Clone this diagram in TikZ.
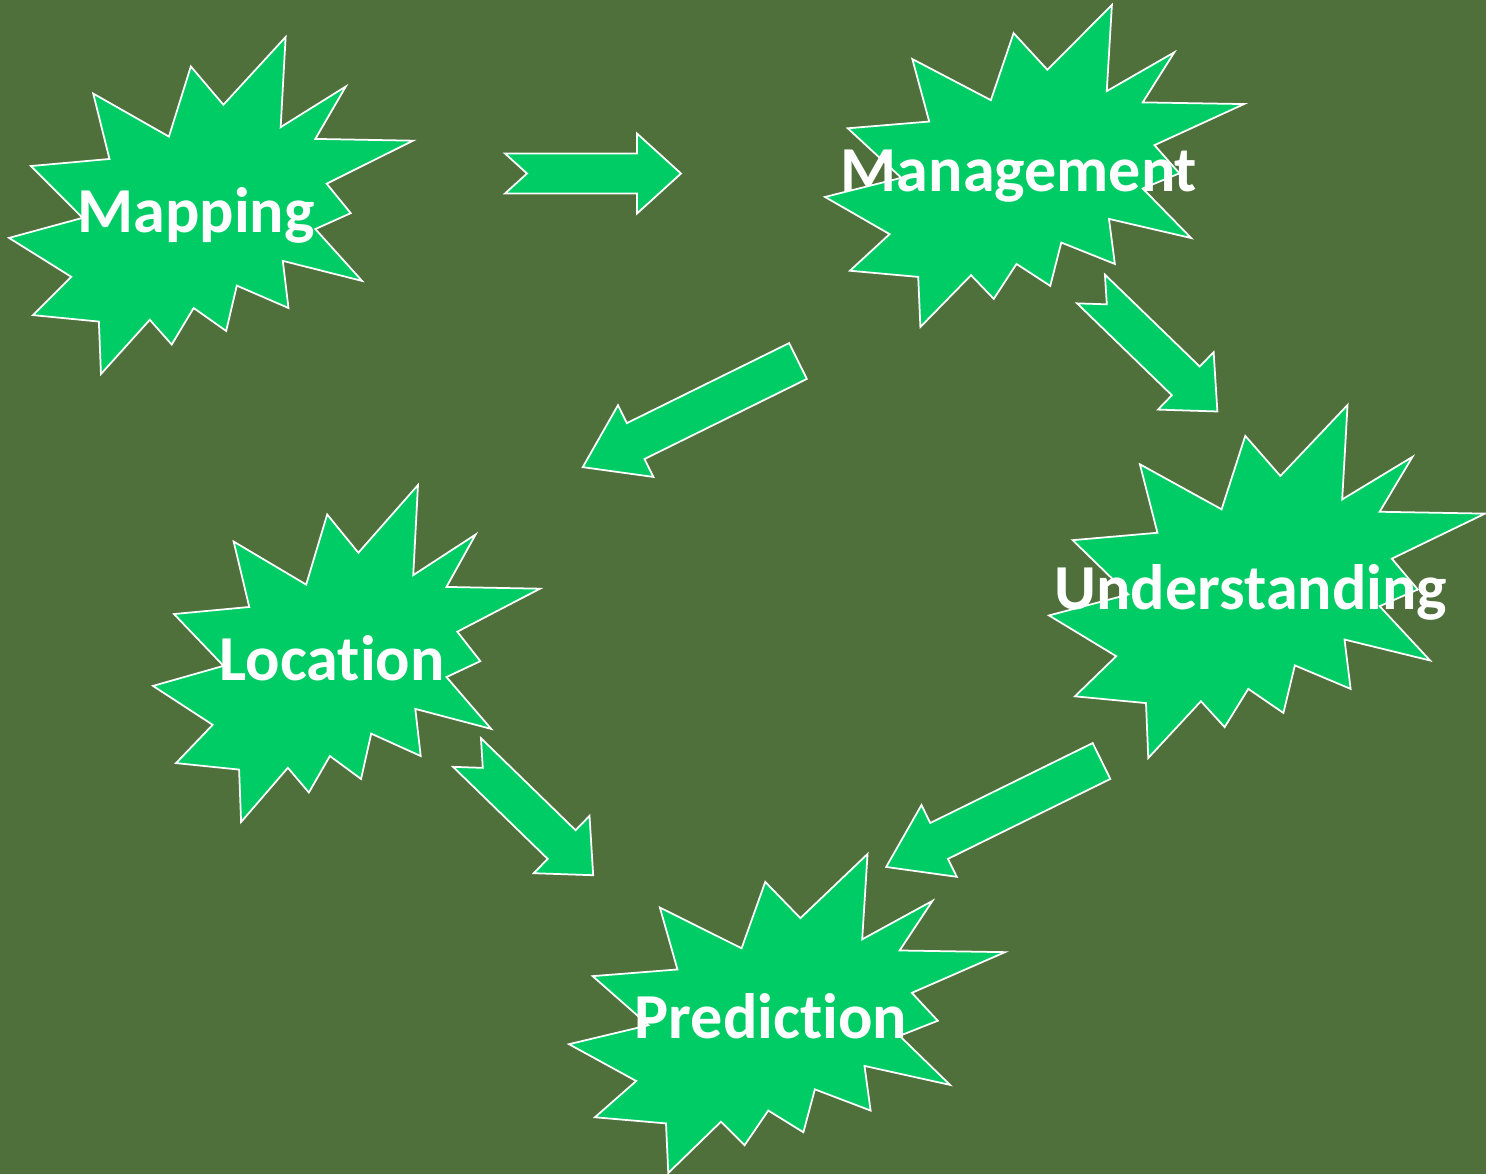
\documentclass[tikz,border=0pt]{standalone}
\usepackage{fontspec}
\setmainfont{Carlito}[Ligatures=NoCommon]
\definecolor{bggreen}{HTML}{4F6F3B}
\definecolor{burstgreen}{HTML}{00CC66}
\tikzset{
  burst/.style={fill=burstgreen, draw=white, line width=1pt, line join=miter},
  blockarrow/.style={fill=burstgreen, draw=white, line width=1pt, line join=miter},
  label text/.style={text=white, font=\fontsize{36.5}{44}\selectfont\bfseries, inner sep=0pt, anchor=base}
}
\newcommand{\burstshape}[6]{%
  \begin{scope}[shift={(#2,#3)}, xscale=#4/216, yscale=#5/216]
    \draw[burst] (114.62,43.42) -- (147.90,0) -- (145.25,57.77) -- (180.07,31.72) -- (163.80,65.32)
      -- (216,66.45) -- (169.85,94.02) -- (182.70,112.90) -- (163.80,123.10) -- (188.77,156.32)
      -- (146.40,143.50) -- (149.42,173.70) -- (121.80,159.35) -- (116.12,188.42) -- (98.72,173.70)
      -- (87,197.12) -- (75.27,181.25) -- (49.17,216) -- (48.05,182.40) -- (12.85,178.25)
      -- (33.30,153.70) -- (0,128.77) -- (39.35,115.92) -- (11.72,82.70) -- (53.72,78.17)
      -- (45.02,36.25) -- (85.50,63.82) -- (97.22,18.87) -- cycle;
    \node[label text] (#1) at (100,125) {#6};
  \end{scope}}
\newcommand{\notcharrow}[2]{%
  \begin{scope}[shift={(#1)}, rotate=#2]
    \draw[blockarrow] (0,-20) -- (132,-20) -- (132,-40) -- (176,0) -- (132,40) -- (132,20) -- (0,20) -- (22,0) -- cycle;
  \end{scope}}
\newcommand{\plainarrow}[2]{%
  \begin{scope}[shift={(#1)}, rotate=#2]
    \draw[blockarrow] (0,-20) -- (181,-20) -- (181,-40) -- (240,0) -- (181,40) -- (181,20) -- (0,20) -- cycle;
  \end{scope}}
\begin{document}
\begin{tikzpicture}[x=0.02cm, y=-0.02cm]
\useasboundingbox (0,0) rectangle (1486,1174);
\fill[bggreen] (0,0) rectangle (1486,1174);
\burstshape{mapping}{9}{37}{404}{337}{Mapping}
\burstshape{management}{825}{5}{419}{322}{Management}
\burstshape{understanding}{1049}{405}{436}{353}{Understanding}
\burstshape{location}{153}{485}{387}{337}{Location}
\burstshape{prediction}{569}{854}{436}{319}{Prediction}
\coordinate (map-man) at (505,173.5);
\coordinate (man-loc) at (798,361);
\coordinate (man-und) at (1091,289);
\coordinate (loc-pre) at (467,752.5);
\coordinate (und-pre) at (1101.5,761);
\notcharrow{map-man}{0}
\plainarrow{man-loc}{206.25}
\notcharrow{man-und}{-44.1}
\notcharrow{loc-pre}{-44.2}
\plainarrow{und-pre}{206.2}
\end{tikzpicture}
\end{document}
